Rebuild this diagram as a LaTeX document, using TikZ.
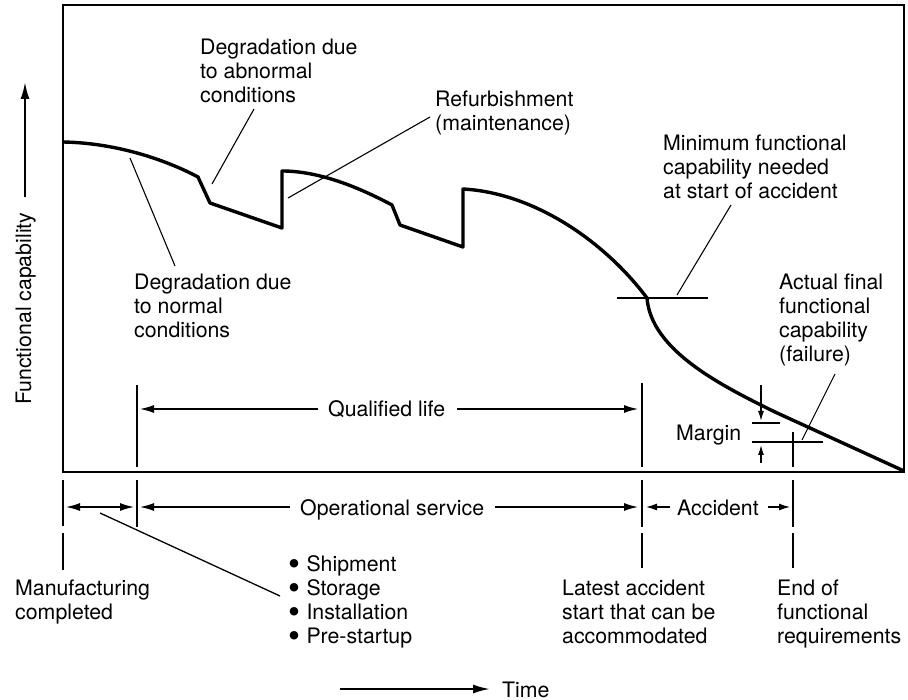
\documentclass[tikz,border=0pt]{standalone}
\usepackage{fontspec}
\setmainfont{TeX Gyre Heros}
\usetikzlibrary{arrows.meta}
\newcommand{\bigbul}{\smash{\raisebox{-0.22em}{\scalebox{1.6}{\textbullet}}}\hspace{0.3em}}
\begin{document}
\begin{tikzpicture}[x=1pt,y=-1pt,
  lbl/.style={font=\fontsize{21.3}{24}\selectfont, inner sep=0pt, align=left, anchor=base west},
  curvepath/.style={line width=3.4pt, line join=round},
  leader/.style={line width=1.1pt},
  tickline/.style={line width=1.4pt},
  dimarrow/.style={line width=1.3pt, -{Latex[length=14pt,width=8pt]}},
  smallarrow/.style={line width=1.3pt, -{Latex[length=11pt,width=7pt]}},
]
\useasboundingbox (0,0) rectangle (908,700);
% frame
\draw[line width=1.6pt] (63,5) rectangle (904,472);

% capability curve
\draw[curvepath] (63,142) .. controls (120,143) and (170,162) .. (198,177)
  -- (210,203) -- (282,228) -- (282,171)
  .. controls (320,171) and (360,188) .. (392,205)
  -- (400,225) -- (463,247) -- (463,189)
  .. controls (535,193) and (605,242) .. (647,298)
  .. controls (651,350) and (720,385) .. (775,412) -- (904,471);

% minimum functional capability line
\coordinate (minL) at (617,298);
\coordinate (minR) at (708,298);
\draw[line width=1.3pt] (minL) -- (minR);

% labels (base anchor = baseline of the last line)
\node[lbl] (abn) at (200,103) {Degradation due\\to abnormal\\conditions};
\node[lbl] (ref) at (435,131) {Refurbishment\\(maintenance)};
\node[lbl] (minf) at (663,199) {Minimum functional\\capability needed\\at start of accident};
\node[lbl] (act) at (779,362) {Actual final\\functional\\capability\\(failure)};
\node[lbl] (nor) at (134,338) {Degradation due\\to normal\\conditions};
\node[lbl] (qual) at (328,417) {Qualified life};
\node[lbl] (marg) at (676,441) {Margin};
\node[lbl] (oper) at (300,515) {Operational service};
\node[lbl] (acc) at (677,515) {Accident};
\node[lbl] (manu) at (15,619) {Manufacturing\\completed};
\node[lbl] (bul) at (288,643) {\bigbul Shipment\\\bigbul Storage\\\bigbul Installation\\\bigbul Pre-startup};
\node[lbl] (late) at (562,643) {Latest accident\\start that can be\\accommodated};
\node[lbl] (endf) at (777,643) {End of\\functional\\requirements};
\node[lbl] (time) at (502,697) {Time};
\node[lbl, rotate=90] (ylab) at (31,405) {Functional capability};

% leader lines
\coordinate (abnA) at (254,109); \coordinate (abnB) at (212,184);
\draw[leader] (abnA) -- (abnB);
\coordinate (refA) at (430,117); \coordinate (refB) at (288,198);
\draw[leader] (refA) -- (refB);
\coordinate (norA) at (130,158); \coordinate (norB) at (175,266);
\draw[leader] (norA) -- (norB);
\coordinate (minA) at (731,205); \coordinate (minB) at (677,295);
\draw[leader] (minA) -- (minB);
\coordinate (actA) at (835,374); \coordinate (actB) at (802,440);
\draw[leader] (actA) -- (actB);
\coordinate (preA) at (100,513); \coordinate (preB) at (280,596);
\draw[line width=1.3pt] (preA) -- (preB);

% vertical time markers
\draw[tickline] (137,385) -- (137,467) (137,480) -- (137,527);
\draw[tickline] (642,383) -- (642,467) (642,480) -- (642,527) (642,533) -- (642,568);
\draw[tickline] (63,480) -- (63,526) (63,533) -- (63,570);
\draw[tickline] (793,432) -- (793,467) (793,480) -- (793,527) (793,533) -- (793,568);

% qualified life arrows
\coordinate (q1) at (318,409); \coordinate (q1t) at (140,409);
\coordinate (q2) at (457,409); \coordinate (q2t) at (638,409);
\draw[dimarrow] (q1) -- (q1t);
\draw[dimarrow] (q2) -- (q2t);

% operational service arrows
\coordinate (pm) at (100,507);
\draw[dimarrow] (pm) -- (66,507);
\draw[dimarrow] (pm) -- (134,507);
\coordinate (o1) at (290,507); \coordinate (o1t) at (140,507);
\coordinate (o2) at (495,507); \coordinate (o2t) at (638,507);
\draw[dimarrow] (o1) -- (o1t);
\draw[dimarrow] (o2) -- (o2t);

% accident arrows
\coordinate (a1) at (670,507); \coordinate (a1t) at (646,507);
\coordinate (a2) at (768,507); \coordinate (a2t) at (790,507);
\draw[smallarrow] (a1) -- (a1t);
\draw[smallarrow] (a2) -- (a2t);

% margin
\coordinate (m1) at (752,423); \coordinate (m1r) at (780,423);
\coordinate (m2) at (752,442); \coordinate (m2r) at (823,442);
\draw[line width=1.2pt] (m1) -- (m1r);
\draw[line width=1.2pt] (m2) -- (m2r);
\draw[line width=1.3pt, -{Latex[length=10pt,width=6pt]}] (761,385) -- (761,421);
\draw[line width=1.3pt, -{Latex[length=10pt,width=6pt]}] (761,463) -- (761,445);

% time arrow
\coordinate (tA) at (340,689); \coordinate (tB) at (490,689);
\draw[line width=2pt, -{Latex[length=17pt,width=9pt]}] (tA) -- (tB);

% functional capability arrow
\coordinate (yA) at (25,197); \coordinate (yB) at (25,82);
\draw[line width=2pt, -{Latex[length=17pt,width=9pt]}] (yA) -- (yB);
\end{tikzpicture}
\end{document}
